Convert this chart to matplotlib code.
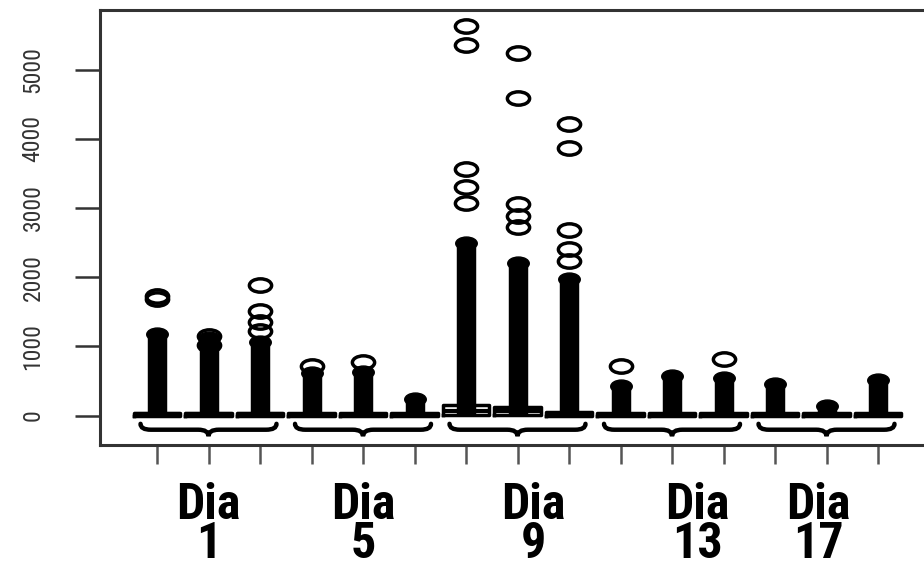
import matplotlib
matplotlib.use("Agg")
import matplotlib.pyplot as plt
from matplotlib.path import Path
from matplotlib.patches import PathPatch
import matplotlib.transforms as mtransforms

# ---------------- data ----------------
group_days = ["1", "5", "9", "13", "17"]
box_q1 = [0, 0, 0, 0, 0, 0, 10, 10, 0, 0, 0, 0, 0, 0, 0]
box_med = [15, 15, 15, 10, 10, 10, 60, 60, 20, 10, 10, 10, 10, 10, 10]
box_q3 = [40, 40, 40, 30, 30, 30, 150, 120, 50, 30, 30, 30, 30, 30, 30]
# top of the dense run of outliers (drawn as a solid column)
dense_top = [1175, 1115, 1060, 610, 630, 235, 2490, 2200, 1970, 425, 565, 540, 450, 135, 520]
# separate outliers above the dense run
outliers = [
    [1680, 1730],
    [1150, 1020],
    [1880, 1510, 1350, 1220],
    [715],
    [780],
    [],
    [5630, 5350, 3560, 3300, 3070],
    [5240, 4590, 3050, 2880, 2720],
    [4210, 3860, 2680, 2410, 2230],
    [715],
    [],
    [823],
    [],
    [],
    [],
]
yticks = [0, 1000, 2000, 3000, 4000, 5000]

FONT = ["Roboto Condensed", "PT Sans Narrow", "DejaVu Sans"]

# ---------------- figure ----------------
fig = plt.figure(figsize=(9.24, 5.69), dpi=100)
ax = fig.add_axes([100 / 924, 124 / 569, 824 / 924, 435 / 569])
ax.set_xlim(-0.107, 15.893)
ax.set_ylim(-426, 5860)

n = len(box_q1)
pos = list(range(1, n + 1))

stats = []
for i in range(n):
    stats.append(dict(med=box_med[i], q1=box_q1[i], q3=box_q3[i],
                      whislo=box_q1[i], whishi=box_q3[i], fliers=[]))
ax.bxp(stats, positions=pos, widths=0.9, showcaps=False, showfliers=False,
       boxprops=dict(color="black", linewidth=2.5),
       medianprops=dict(color="black", linewidth=3),
       whiskerprops=dict(color="black", linewidth=1), manage_ticks=False)

# ellipse marker (circles are stretched in the original)
circ = Path.unit_circle()
ell = Path(circ.vertices * [1.0, 0.6], circ.codes)

for i in range(n):
    x = pos[i]
    ax.plot([x, x], [0, dense_top[i]], color="black", linewidth=14,
            solid_capstyle="butt", zorder=3)
    ax.plot([x], [dense_top[i]], marker=ell, markersize=15.5, color="black",
            markerfacecolor="black", zorder=3, linestyle="none")
    if outliers[i]:
        ax.plot([x] * len(outliers[i]), outliers[i], marker=ell, markersize=16,
                linestyle="none", markerfacecolor="none", markeredgecolor="black",
                markeredgewidth=2.5, zorder=4)

# braces under each group
w = 1.32
y0, y1, y2 = -120, -205, -300
for g in range(len(group_days)):
    c = 3 * g + 2
    verts = [(c - w, y0), (c - w, y1), (c - w + 0.2, y1), (c - 0.2, y1),
             (c, y1), (c, y2), (c, y1), (c + 0.2, y1), (c + w - 0.2, y1),
             (c + w, y1), (c + w, y0)]
    codes = [Path.MOVETO, Path.CURVE3, Path.CURVE3, Path.LINETO,
             Path.CURVE3, Path.CURVE3, Path.CURVE3, Path.CURVE3, Path.LINETO,
             Path.CURVE3, Path.CURVE3]
    ax.add_patch(PathPatch(Path(verts, codes), fill=False, edgecolor="black",
                           linewidth=3.2, capstyle="round", zorder=5))

# axes styling
for s in ["left", "bottom", "top"]:
    ax.spines[s].set_color("#333333")
    ax.spines[s].set_linewidth(2.2)
ax.spines["right"].set_visible(False)

ax.set_yticks(yticks)
ax.set_yticklabels([str(v) for v in yticks], rotation=90, va="center",
                   fontsize=17, color="#333333", family=FONT)
ax.tick_params(axis="y", direction="out", length=18, width=1.8, color="#333333", pad=22)
ax.set_xticks(pos)
ax.set_xticklabels([])
ax.tick_params(axis="x", direction="out", length=14, width=1.8, color="#555555")

# group labels (two-line labels "Dia\nN")
label_x = [2.0, 5.0, 8.3, 11.5, 13.85]
trans = mtransforms.blended_transform_factory(ax.transData, fig.transFigure)
for lx, d in zip(label_x, group_days):
    fig.text(lx, 1.5 / 569, "Dia\n" + d, transform=trans, ha="center",
             va="bottom", multialignment="center", linespacing=0.78,
             fontsize=36, fontweight="bold", family=FONT)

fig.savefig("out.png", dpi=100)
